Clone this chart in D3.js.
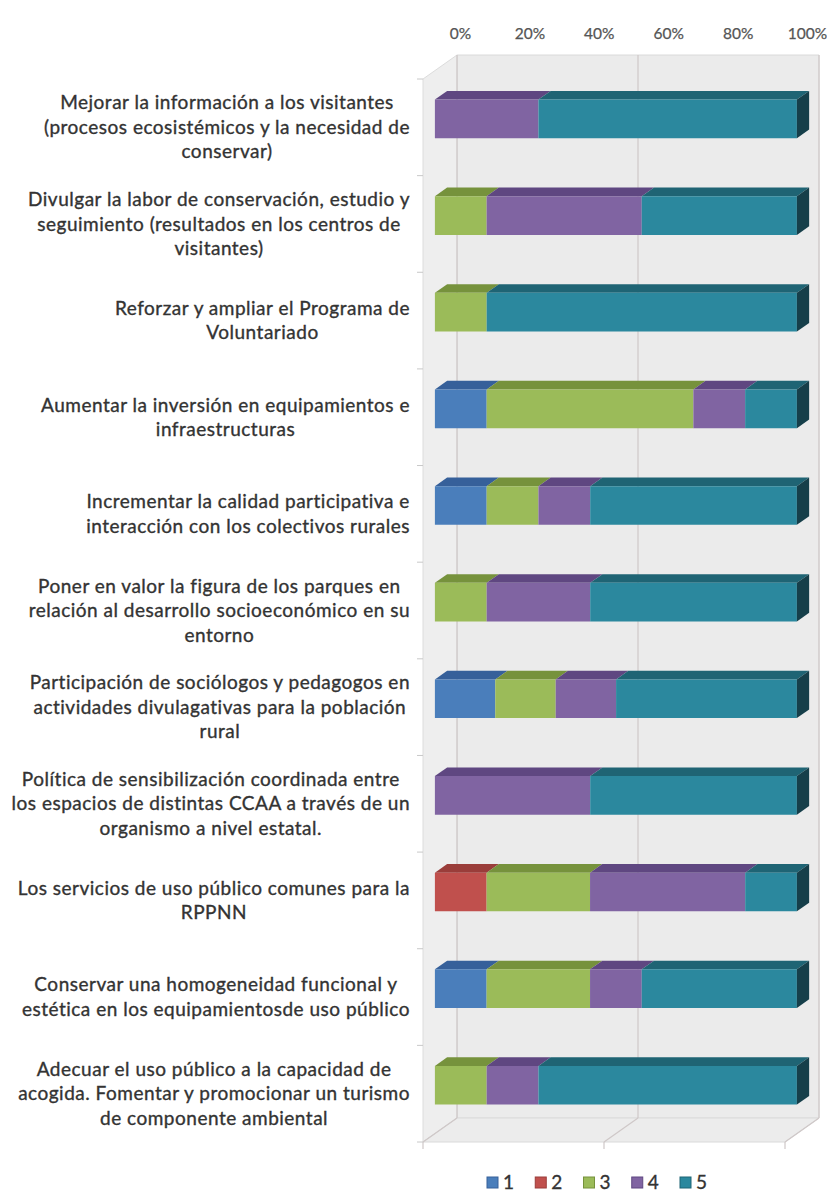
<!DOCTYPE html>
<html>
<head>
<meta charset="utf-8">
<script src="https://cdn.jsdelivr.net/npm/d3@7/dist/d3.min.js"></script>
<style>
  html, body { margin: 0; padding: 0; background: #fff; }
  svg { display: block; }
</style>
</head>
<body>
<div id="chart"></div>
<script>
// Categorías (cada una con sus líneas tal como aparecen)
const categories = [
  ["Mejorar la información a los visitantes", "(procesos ecosistémicos y la necesidad de", "conservar)"],
  ["Divulgar la labor de conservación, estudio y", "seguimiento (resultados en los centros de", "visitantes)"],
  ["Reforzar y ampliar el Programa de", "Voluntariado"],
  ["Aumentar la inversión en equipamientos e", "infraestructuras"],
  ["Incrementar la calidad participativa e", "interacción con los colectivos rurales"],
  ["Poner en valor la figura de los parques en", "relación al desarrollo socioeconómico en su", "entorno"],
  ["Participación de sociólogos y pedagogos en", "actividades divulagativas para la población", "rural"],
  ["Política de sensibilización coordinada entre", "los espacios de distintas CCAA a través de un", "organismo a nivel estatal."],
  ["Los servicios de uso público comunes para la", "RPPNN"],
  ["Conservar una homogeneidad funcional y", "estética en los equipamientosde uso público"],
  ["Adecuar el uso público a la capacidad de", "acogida. Fomentar y promocionar un turismo", "de componente ambiental"]
];

// Series (% de respuestas por valoración)
const series1 = [0, 0, 0, 14.3, 14.3, 0, 16.7, 0, 0, 14.3, 0];
const series2 = [0, 0, 0, 0, 0, 0, 0, 0, 14.3, 0, 0];
const series3 = [0, 14.3, 14.3, 57.1, 14.3, 14.3, 16.7, 0, 28.6, 28.6, 14.3];
const series4 = [28.6, 42.9, 0, 14.3, 14.3, 28.6, 16.7, 42.9, 42.9, 14.3, 14.3];
const series5 = [71.4, 42.9, 85.7, 14.3, 57.1, 57.1, 50.0, 57.1, 14.3, 42.9, 71.4];

const seriesNames = ["1", "2", "3", "4", "5"];
const xTicks = [0, 0.2, 0.4, 0.6, 0.8, 1];
const gridValues = [0, 0.5, 1];

// colores: frente / cara superior / lateral
const colors = {
  "1": ["#4a7ebb", "#36609a", "#2a4a75"],
  "2": ["#c0504d", "#9a3d3a", "#772e2c"],
  "3": ["#9bbb59", "#76923c", "#5b712e"],
  "4": ["#8064a2", "#5f4781", "#493663"],
  "5": ["#2b889e", "#1f6474", "#163f4a"]
};

const W = 827, H = 1194;
const DX = 34, DY = -24;           // profundidad del gráfico 3D
const BAR_T0 = 0.35, BAR_T1 = 0.71; // profundidad de las barras
const FONT = "Lato, 'Open Sans', sans-serif";

const svg = d3.select("#chart").append("svg")
  .attr("width", W)
  .attr("height", H);

const keys = categories.map((c, i) => i);
const rows = keys.map(i => ({
  key: i,
  "1": series1[i], "2": series2[i], "3": series3[i], "4": series4[i], "5": series5[i]
}));

// ===== Escalas (plano frontal) =====
const x = d3.scaleLinear().domain([0, 1]).range([423, 785]);
const y = d3.scaleBand().domain(keys).range([79, 1142]).paddingInner(0.6).paddingOuter(0.3);
const top0 = 79, bottom0 = 1142;

const P = (px, py, t) => [px + t * DX, py + t * DY];
const poly = pts => pts.map(p => p.join(",")).join(" ");

// ===== Paredes =====
const wallFill = "#ebebeb";
// pared del fondo
svg.append("polygon")
  .attr("points", poly([P(x(0), top0, 1), P(x(1), top0, 1), P(x(1), bottom0, 1), P(x(0), bottom0, 1)]))
  .attr("fill", wallFill).attr("stroke", "#dadada").attr("stroke-width", 1);
// pared izquierda
svg.append("polygon")
  .attr("points", poly([P(x(0), top0, 0), P(x(0), top0, 1), P(x(0), bottom0, 1), P(x(0), bottom0, 0)]))
  .attr("fill", "#eeeeee").attr("stroke", "#dcdcdc").attr("stroke-width", 1);
// suelo
svg.append("polygon")
  .attr("points", poly([P(x(0), bottom0, 0), P(x(0), bottom0, 1), P(x(1), bottom0, 1), P(x(1), bottom0, 0)]))
  .attr("fill", "#ececec").attr("stroke", "#dadada").attr("stroke-width", 1);

// líneas de cuadrícula (fondo + suelo)
const grid = svg.append("g").attr("stroke", "#cfc8c8").attr("stroke-width", 1.2);
gridValues.forEach(v => {
  const a = P(x(v), top0, 1), b = P(x(v), bottom0, 1), c = P(x(v), bottom0, 0);
  grid.append("line").attr("x1", a[0]).attr("y1", a[1]).attr("x2", b[0]).attr("y2", b[1]);
  grid.append("line").attr("x1", b[0]).attr("y1", b[1]).attr("x2", c[0]).attr("y2", c[1]);
  grid.append("line").attr("x1", c[0]).attr("y1", c[1]).attr("x2", c[0]).attr("y2", c[1] + 7);
});

// marcas del eje de categorías
const boundaries = d3.range(0, keys.length + 1).map(i => top0 + i * y.step());
svg.append("g").attr("stroke", "#c8c8c8")
  .selectAll("line").data(boundaries).enter().append("line")
  .attr("x1", x(0) - 6).attr("x2", x(0))
  .attr("y1", d => d).attr("y2", d => d);

// ===== Eje superior =====
const xTop = d3.scaleLinear().domain([0, 1]).range([460, 807]);
const axTop = svg.append("g")
  .attr("transform", "translate(0,39)")
  .call(d3.axisTop(xTop).tickValues(xTicks).tickFormat(d3.format(".0%")).tickSize(0).tickPadding(0));
axTop.select(".domain").remove();
axTop.selectAll("text")
  .style("font-family", FONT)
  .style("font-size", "15.5px")
  .attr("fill", "#555")
  .attr("stroke", "#555").attr("stroke-width", 0.25);

// ===== Barras apiladas 3D =====
const stacked = d3.stack().keys(seriesNames).offset(d3.stackOffsetExpand)(rows);
const barG = svg.append("g");
rows.forEach((r, i) => {
  const yTop = y(r.key), yBot = y(r.key) + y.bandwidth();
  const segs = stacked.map(s => ({ key: s.key, x0: s[i][0], x1: s[i][1] }))
    .filter(s => s.x1 - s.x0 > 1e-6);
  segs.forEach((s, j) => {
    const c = colors[s.key];
    const fTL = P(x(s.x0), yTop, BAR_T0), fTR = P(x(s.x1), yTop, BAR_T0);
    const fBL = P(x(s.x0), yBot, BAR_T0), fBR = P(x(s.x1), yBot, BAR_T0);
    const bTL = P(x(s.x0), yTop, BAR_T1), bTR = P(x(s.x1), yTop, BAR_T1);
    const bBR = P(x(s.x1), yBot, BAR_T1);
    // cara superior
    barG.append("polygon").attr("points", poly([fTL, bTL, bTR, fTR])).attr("fill", c[1]);
    // cara frontal
    barG.append("polygon").attr("points", poly([fTL, fTR, fBR, fBL])).attr("fill", c[0]);
    // lateral derecho (solo el último segmento)
    if (j === segs.length - 1) {
      barG.append("polygon").attr("points", poly([fTR, bTR, bBR, fBR])).attr("fill", c[2]);
    }
  });
});

// ===== Etiquetas de categoría =====
const LABEL_RIGHT = 410, LINE_H = 24.5;
const labG = svg.append("g")
  .style("font-family", FONT)
  .style("font-size", "19px")
  .style("letter-spacing", "0.5px")
  .attr("fill", "#333")
  .attr("stroke", "#333")
  .attr("stroke-width", 0.35);
categories.forEach((lines, i) => {
  const cy = y(i) + y.bandwidth() / 2;
  const g = labG.append("g");
  const texts = lines.map((ln, k) => g.append("text")
    .attr("y", cy + (k - (lines.length - 1) / 2) * LINE_H)
    .attr("dy", "0.35em")
    .attr("text-anchor", "middle")
    .text(ln));
  const maxW = d3.max(texts, t => t.node().getComputedTextLength());
  texts.forEach(t => t.attr("x", LABEL_RIGHT - maxW / 2));
});

// ===== Leyenda =====
const lx = d3.scalePoint().domain(seriesNames).range([487, 680]);
const leg = svg.append("g").attr("transform", "translate(0,1182)");
const li = leg.selectAll("g").data(seriesNames).enter().append("g")
  .attr("transform", d => `translate(${lx(d)},0)`);
li.append("rect")
  .attr("x", 0).attr("y", -5).attr("width", 11).attr("height", 11)
  .attr("fill", d => colors[d][0])
  .attr("stroke", d => colors[d][1]).attr("stroke-width", 1);
li.append("text")
  .attr("x", 16).attr("dy", "0.35em")
  .style("font-family", FONT).style("font-size", "19px")
  .attr("fill", "#333").attr("stroke", "#333").attr("stroke-width", 0.35)
  .text(d => d);
</script>
</body>
</html>
